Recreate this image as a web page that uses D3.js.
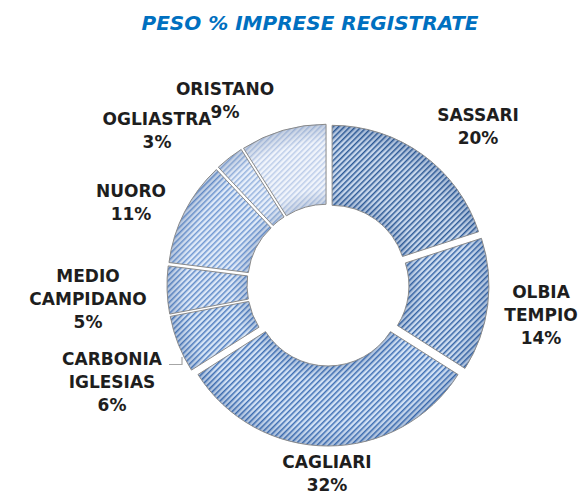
<!DOCTYPE html>
<html>
<head>
    <meta charset="utf-8">
    <title>Peso % imprese registrate</title>
    <script src="https://d3js.org/d3.v7.min.js"></script>
    <style>
        body, html {
            margin: 0;
            padding: 0;
            background: #fff;
        }
        .title {
            font-family: 'DejaVu Sans', sans-serif;
            font-weight: bold;
            font-style: italic;
            font-size: 20px;
            fill: #0070c0;
            text-anchor: middle;
        }
        .slice-label {
            font-family: 'DejaVu Sans', sans-serif;
            font-weight: bold;
            font-size: 17px;
            fill: #1e1e1e;
            text-anchor: middle;
        }
    </style>
</head>
<body>
<script>
    // data
    const categories = ["SASSARI", "OLBIA TEMPIO", "CAGLIARI", "CARBONIA IGLESIAS",
                        "MEDIO CAMPIDANO", "NUORO", "OGLIASTRA", "ORISTANO"];
    const values = [20, 14, 32, 6, 5, 11, 3, 9];
    const title = "PESO % IMPRESE REGISTRATE";

    const width = 584, height = 493;
    const cx = 328, cy = 285;
    const outerR = 154, innerR = 74;
    const explode = 7;     // every slice pulled out a bit
    const lineH = 23;

    // where each label block is centred (Excel moved them by hand)
    const labelAt = {
        "SASSARI": [478, 126],
        "OLBIA TEMPIO": [541, 315],
        "CAGLIARI": [327, 473],
        "CARBONIA IGLESIAS": [112, 382],
        "MEDIO CAMPIDANO": [88, 299],
        "NUORO": [131, 202],
        "OGLIASTRA": [157, 130],
        "ORISTANO": [225, 100]
    };

    const data = categories.map((c, i) => ({name: c, value: values[i]}));
    const total = d3.sum(values);

    // dark -> light blue along the slices
    const stripeColor = d3.scaleLinear()
        .domain([0, 2, 5, 7])
        .range(["#2f5c98", "#3f70b5", "#7098d2", "#bccde9"]);
    const bgColor = d3.scaleLinear()
        .domain([0, 2, 5, 7])
        .range(["#cad9ed", "#d3e2f5", "#e0eaf8", "#f0f4fb"]);

    const svg = d3.create("svg")
        .attr("width", width)
        .attr("height", height)
        .attr("viewBox", [0, 0, width, height]);

    const defs = svg.append("defs");

    data.forEach((d, i) => {
        const p = defs.append("pattern")
            .attr("id", "stripes" + i)
            .attr("patternUnits", "userSpaceOnUse")
            .attr("width", 4)
            .attr("height", 10)
            .attr("patternTransform", "rotate(45)");
        p.append("rect")
            .attr("width", 4).attr("height", 10)
            .attr("fill", bgColor(i));
        p.append("rect")
            .attr("width", 1.5).attr("height", 10)
            .attr("fill", stripeColor(i));
    });

    // soft darkening toward the inner and outer rims
    const shade = defs.append("radialGradient")
        .attr("id", "shade")
        .attr("gradientUnits", "userSpaceOnUse")
        .attr("cx", 0).attr("cy", 0).attr("r", outerR);
    shade.selectAll("stop")
        .data([[0, 0.2], [innerR / outerR, 0.2], [0.58, 0], [0.88, 0], [1, 0.22]])
        .join("stop")
            .attr("offset", d => d[0])
            .attr("stop-color", "#1f4580")
            .attr("stop-opacity", d => d[1]);

    svg.append("text")
        .attr("class", "title")
        .attr("x", 310)
        .attr("y", 30)
        .text(title);

    const pie = d3.pie().sort(null).value(d => d.value);
    const arc = d3.arc().innerRadius(innerR).outerRadius(outerR);
    const arcs = pie(data);

    const chart = svg.append("g")
        .attr("transform", `translate(${cx},${cy})`);

    const slice = chart.selectAll("g.slice")
        .data(arcs)
        .join("g")
            .attr("class", "slice")
            .attr("transform", d => {
                const a = (d.startAngle + d.endAngle) / 2;
                return `translate(${explode * Math.sin(a)},${-explode * Math.cos(a)})`;
            });

    slice.append("path")
        .attr("d", arc)
        .attr("fill", (d, i) => `url(#stripes${i})`);

    slice.append("path")
        .attr("d", arc)
        .attr("fill", "url(#shade)")
        .attr("stroke", "#8a8a8a")
        .attr("stroke-width", 1);

    // labels
    svg.append("g")
        .selectAll("text")
        .data(arcs)
        .join("text")
            .attr("class", "slice-label")
            .each(function(d) {
                const lines = d.data.name.split(" ");
                lines.push(Math.round(d.data.value / total * 100) + "%");
                const [x, y] = labelAt[d.data.name];
                const top = y - (lines.length - 1) * lineH / 2 + 6;
                d3.select(this).selectAll("tspan")
                    .data(lines)
                    .join("tspan")
                        .attr("x", x)
                        .attr("y", (t, k) => top + k * lineH)
                        .text(t => t);
            });

    // leader line for Carbonia Iglesias
    svg.append("path")
        .attr("d", "M169,364.5 H182 V357")
        .attr("fill", "none")
        .attr("stroke", "#a6a6a6")
        .attr("stroke-width", 1.2);

    document.body.appendChild(svg.node());
</script>
</body>
</html>
